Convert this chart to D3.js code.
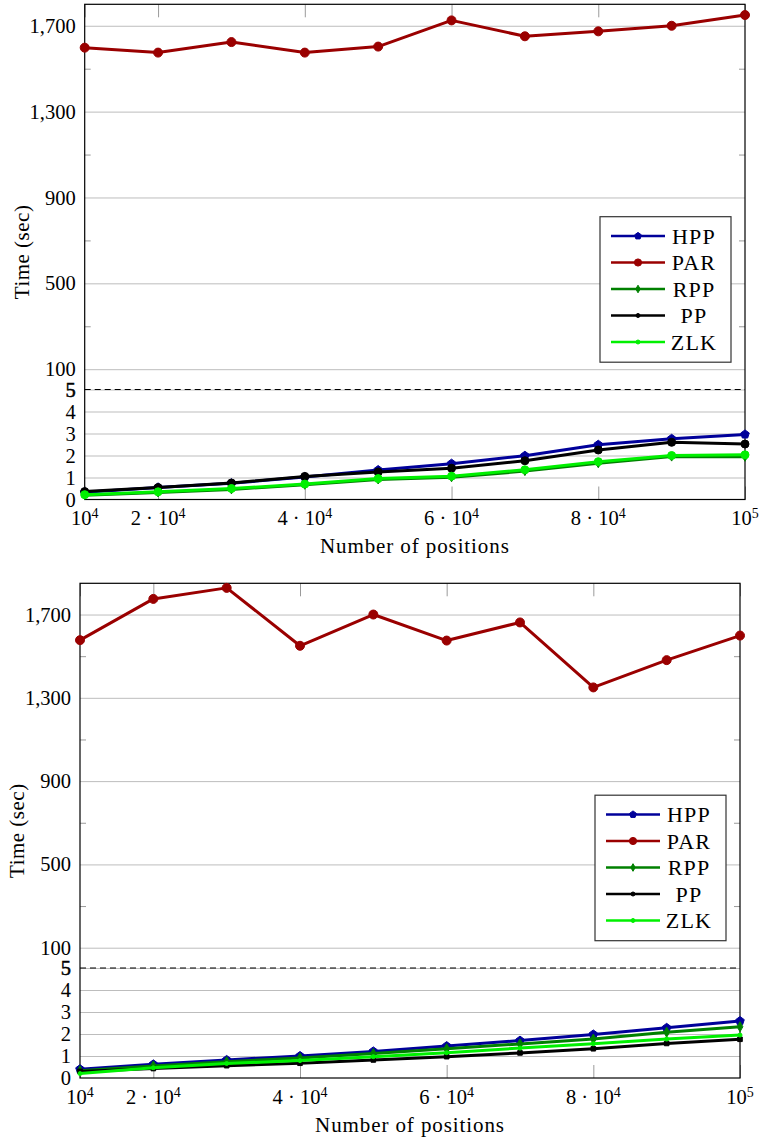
<!DOCTYPE html>
<html>
<head>
<meta charset="utf-8">
<script src="https://cdn.jsdelivr.net/npm/d3@7"></script>
<style>
  body { margin: 0; background: #fff; }
  svg text { font-family: "Liberation Serif", "DejaVu Serif", "Noto Serif", Times, serif; fill: #000; }
</style>
</head>
<body>
<svg id="chart" width="760" height="1144"></svg>
<script>
// Runtime vs number of positions, two runs stacked (broken y axis: 0-5 and 100-max)

const positions = [1e4, 2e4, 3e4, 4e4, 5e4, 6e4, 7e4, 8e4, 9e4, 1e5];
const seriesNames = ['HPP', 'PAR', 'RPP', 'PP', 'ZLK'];
const seriesColors = ['#00009a', '#9a0000', '#008000', '#000000', '#00f000'];

// top chart (sec)
const hppTop = [0.33, 0.55, 0.74, 1.02, 1.34, 1.63, 1.99, 2.49, 2.76, 2.96];
const parTop = [1598, 1575, 1624, 1575, 1603, 1725, 1651, 1674, 1700, 1750];
const rppTop = [0.19, 0.32, 0.46, 0.67, 0.91, 1.01, 1.29, 1.65, 1.95, 1.94];
const ppTop  = [0.36, 0.54, 0.75, 1.05, 1.25, 1.42, 1.76, 2.25, 2.60, 2.52];
const zlkTop = [0.22, 0.35, 0.50, 0.70, 0.95, 1.06, 1.35, 1.72, 2.00, 2.03];

// bottom chart (sec)
const hppBottom = [0.40, 0.62, 0.82, 1.00, 1.21, 1.45, 1.70, 1.98, 2.28, 2.59];
const parBottom = [1577, 1775, 1828, 1550, 1700, 1575, 1662, 1350, 1481, 1599];
const rppBottom = [0.33, 0.55, 0.74, 0.91, 1.11, 1.33, 1.55, 1.77, 2.08, 2.33];
const ppBottom  = [0.30, 0.43, 0.56, 0.67, 0.82, 0.97, 1.14, 1.33, 1.57, 1.76];
const zlkBottom = [0.20, 0.47, 0.66, 0.79, 0.97, 1.15, 1.36, 1.56, 1.77, 1.95];

const xTickValues = [1e4, 2e4, 4e4, 6e4, 8e4, 1e5];
const yTickValues = [0, 1, 2, 3, 4, 5, 100, 500, 900, 1300, 1700];
const yMinorTicks = [300, 700, 1100, 1500];
const yBreakLow = 5, yBreakHigh = 100;

const serif = '"Liberation Serif", "DejaVu Serif", "Noto Serif", Times, serif';

// custom pentagon symbol (d3 has none)
const symbolPentagon = {
    draw(ctx, size) {
        let r = Math.sqrt(size / 2.378);
        for (let i = 0; i < 5; i++) {
            let a = -Math.PI / 2 + i * 2 * Math.PI / 5;
            if (i === 0) ctx.moveTo(r * Math.cos(a), r * Math.sin(a));
            else ctx.lineTo(r * Math.cos(a), r * Math.sin(a));
        }
        ctx.closePath();
    }
};

// marker shape + "radius" -> d3.symbol path
function markerPath(shape, r) {
    if (shape === 'pentagon') return d3.symbol(symbolPentagon, 2.378 * r * r)();
    if (shape === 'diamond') return d3.symbol(d3.symbolDiamond, 1.1547 * r * r)();
    if (shape === 'square') return d3.symbol(d3.symbolSquare, 4 * r * r)();
    return d3.symbol(d3.symbolCircle, Math.PI * r * r)();
}

const svg = d3.select('#chart');

const panels = [
    { left: 84.7, right: 745, top: 4.3, bottom: 499.5, yMax: 1800,
      data: [hppTop, parTop, rppTop, ppTop, zlkTop],
      marks: [['pentagon', 4.5], ['circle', 4.5], ['diamond', 4.5], ['circle', 4], ['circle', 4]] },
    { left: 80, right: 740, top: 583.3, bottom: 1078, yMax: 1850,
      data: [hppBottom, parBottom, rppBottom, ppBottom, zlkBottom],
      marks: [['pentagon', 4.5], ['circle', 4.5], ['diamond', 5], ['square', 2.3], ['circle', 2]] }
];

const legendMarks = [['pentagon', 3.6], ['circle', 3.6], ['diamond', 3.8], ['circle', 2], ['circle', 2]];

function expLabel(v) {
    let exp = Math.floor(Math.log10(v));
    let mant = Math.round(v / Math.pow(10, exp));
    return { prefix: mant === 1 ? '10' : `${mant} \u00B7 10`, exp: exp };
}

function drawPanel(p) {
    let w = p.right - p.left;

    let x = d3.scaleLinear()
              .domain([positions[0], positions[positions.length - 1]])
              .range([p.left, p.right]);

    // piecewise: lower part 0-5 (22px/unit), small gap, upper part 100-yMax
    let y = d3.scaleLinear()
              .domain([0, yBreakLow, yBreakHigh, p.yMax])
              .range([p.bottom, p.bottom - 110, p.bottom - 130.3, p.top]);

    let g = svg.append('g');

    // horizontal grid
    g.append('g')
     .attr('transform', `translate(${p.left}, 0)`)
     .call(d3.axisLeft(y).tickValues(yTickValues.filter(v => v !== 0)).tickSize(-w).tickFormat(''))
     .call(a => a.select('.domain').remove())
     .call(a => a.selectAll('line').attr('stroke', '#bdbdbd').attr('stroke-width', 1));

    // minor ticks left + right
    g.append('g')
     .attr('transform', `translate(${p.left}, 0)`)
     .call(d3.axisLeft(y).tickValues(yMinorTicks).tickSize(-6).tickFormat(''))
     .call(a => a.select('.domain').remove())
     .call(a => a.selectAll('line').attr('stroke', '#9a9a9a'));
    g.append('g')
     .attr('transform', `translate(${p.right}, 0)`)
     .call(d3.axisRight(y).tickValues(yMinorTicks).tickSize(-6).tickFormat(''))
     .call(a => a.select('.domain').remove())
     .call(a => a.selectAll('line').attr('stroke', '#9a9a9a'));

    // x ticks, inward from bottom and top
    g.append('g')
     .attr('transform', `translate(0, ${p.bottom})`)
     .call(d3.axisBottom(x).tickValues(xTickValues).tickSize(-13).tickFormat(''))
     .call(a => a.select('.domain').remove())
     .call(a => a.selectAll('line').attr('stroke', '#9a9a9a'));
    g.append('g')
     .attr('transform', `translate(0, ${p.top})`)
     .call(d3.axisTop(x).tickValues(xTickValues).tickSize(-13).tickFormat(''))
     .call(a => a.select('.domain').remove())
     .call(a => a.selectAll('line').attr('stroke', '#9a9a9a'));

    // break line at 5
    g.append('line')
     .attr('x1', p.left).attr('x2', p.right)
     .attr('y1', y(yBreakLow)).attr('y2', y(yBreakLow))
     .attr('stroke', '#000').attr('stroke-width', 1)
     .attr('stroke-dasharray', '6,4');

    // frame
    g.append('rect')
     .attr('x', p.left).attr('y', p.top)
     .attr('width', w).attr('height', p.bottom - p.top)
     .attr('fill', 'none').attr('stroke', '#000').attr('stroke-width', 1.2);

    // y labels
    let yLabels = g.append('g')
     .attr('transform', `translate(${p.left}, 0)`)
     .call(d3.axisLeft(y).tickValues(yTickValues).tickSize(0).tickPadding(9).tickFormat(d3.format(',')))
     .call(a => a.select('.domain').remove())
     .attr('font-family', serif);
    yLabels.selectAll('text')
     .attr('font-size', 20.5)
     .attr('fill', '#000');
    yLabels.selectAll('.tick').filter(d => d === yBreakLow).select('text')
     .attr('stroke', '#000').attr('stroke-width', 0.5);

    // x labels with superscript exponent
    xTickValues.forEach(v => {
        let lab = expLabel(v);
        let t = g.append('text')
                 .attr('x', x(v)).attr('y', p.bottom + 25.5)
                 .attr('text-anchor', 'middle')
                 .attr('font-size', 20.5);
        t.append('tspan').text(lab.prefix);
        t.append('tspan').attr('dy', -7).attr('font-size', 14).text(lab.exp);
    });

    // axis titles
    g.append('text')
     .attr('x', (p.left + p.right) / 2).attr('y', p.bottom + 53.7)
     .attr('text-anchor', 'middle')
     .attr('font-size', 21).attr('letter-spacing', 0.9)
     .text('Number of positions');
    g.append('text')
     .attr('transform', `translate(${p.left - 56}, ${(p.top + p.bottom) / 2}) rotate(-90)`)
     .attr('text-anchor', 'middle')
     .attr('font-size', 21).attr('letter-spacing', 0.5)
     .text('Time (sec)');

    // series
    let line = d3.line()
                 .x((d, i) => x(positions[i]))
                 .y(d => y(d));

    p.data.forEach((vals, s) => {
        g.append('path')
         .datum(vals)
         .attr('fill', 'none')
         .attr('stroke', seriesColors[s])
         .attr('stroke-width', 3)
         .attr('stroke-linejoin', 'round')
         .attr('d', line);

        g.selectAll(null)
         .data(vals)
         .join('path')
         .attr('transform', (d, i) => `translate(${x(positions[i])}, ${y(d)})`)
         .attr('d', markerPath(p.marks[s][0], p.marks[s][1]))
         .attr('fill', seriesColors[s])
         .attr('stroke', seriesColors[s])
         .attr('stroke-width', 1);
    });

    // legend
    let lw = 131, lh = 145.5;
    let legend = g.append('g')
                  .attr('transform', `translate(${p.right - 14 - lw}, ${y(yBreakHigh) - 7 - lh})`);
    legend.append('rect')
          .attr('width', lw).attr('height', lh)
          .attr('fill', '#fff').attr('stroke', '#333').attr('stroke-width', 1.2);

    seriesNames.forEach((name, s) => {
        let cy = 19.3 + s * 26.5;
        legend.append('line')
              .attr('x1', 11).attr('x2', 65)
              .attr('y1', cy).attr('y2', cy)
              .attr('stroke', seriesColors[s]).attr('stroke-width', 2.6);
        legend.append('path')
              .attr('transform', `translate(38, ${cy})`)
              .attr('d', markerPath(legendMarks[s][0], legendMarks[s][1]))
              .attr('fill', seriesColors[s]).attr('stroke', seriesColors[s]);
        legend.append('text')
              .attr('x', 94).attr('y', cy)
              .attr('dy', '0.35em')
              .attr('text-anchor', 'middle')
              .attr('font-size', 22).attr('letter-spacing', 1.2)
              .text(name);
    });
}

panels.forEach(drawPanel);
</script>
</body>
</html>
